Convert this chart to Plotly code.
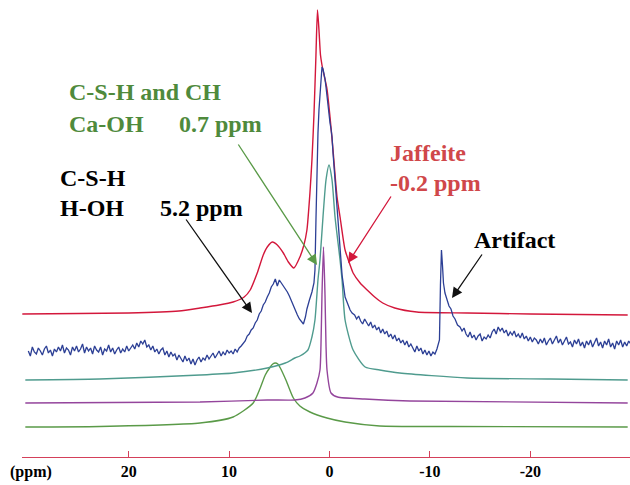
import numpy as np
import plotly.graph_objects as go

# ---------------- data (chemical shift in ppm, intensity in arbitrary units) -------------
red_ppm = [30.6, 25, 20, 15, 12.9, 11, 9.6, 8.5, 7.9, 7.2, 6.6, 6.2, 5.7, 5.2, 4.6, 4.1, 3.55,
           2.95, 2.55, 2.25, 1.95, 1.75, 1.55, 1.35, 1.2, 1.05, 0.9, 0.75, 0.5, 0.25, -0.05, -0.35,
           -0.75, -1.05, -1.55, -2.05, -2.35, -3.05, -3.75, -4.5, -5.3, -6.5, -8.7, -13.7, -20, -29.7]
red_val = [141, 141.5, 142, 144, 147, 150, 153, 158, 165, 182, 200, 208, 213, 210, 202, 193, 187,
           198, 210, 225, 262, 295, 340, 400, 445, 425, 400, 390, 378, 366, 338, 305,
           258, 238, 205, 190, 182, 172, 165, 158, 152, 147, 143, 142, 141, 140]

teal_ppm = [30.3, 22.9, 12.9, 9.6, 6.2, 4.4, 3.45, 2.95, 2.15, 1.75, 1.45, 1.15, 0.95, 0.65, 0.35,
            0.05, -0.25, -0.55, -1.05, -1.25, -1.55, -2.35, -3.55, -5.0, -7.0, -13.7, -22, -29.7]
teal_val = [75, 76, 80, 82, 87, 92, 97, 99, 105, 118, 135, 175, 195, 238, 275,
            290, 275, 238, 195, 175, 135, 105, 88, 85, 82, 77, 76, 75]

purple_ppm = [30.3, 12.9, 6.2, 3.45, 2.45, 1.65, 1.25, 0.95, 0.85, 0.75, 0.6, 0.45, 0.35, 0.25,
              -0.15, -0.8, -3.5, -8, -29.7]
purple_val = [52, 53, 55, 55, 57, 62, 72, 85, 110, 160, 208, 160, 110, 85,
              62, 58, 56, 54, 52]

green_ppm = [30.3, 22.9, 12.9, 9.6, 7.6, 6.9, 6.4, 5.9, 5.65, 5.4, 5.15, 4.9, 4.3, 3.6, 2.95, 1.95,
             0.25, -1.55, -5.0, -12, -29.7]
green_val = [28, 28.5, 32, 38, 52, 67, 80, 88, 91, 92, 91, 87, 74, 57, 49, 43,
             37, 33, 29, 28.5, 28]

# experimental spectrum (blue), read in pieces
blue_a = [104, 99, 108, 103, 101, 107, 104, 100, 106, 109, 102, 105, 99, 106, 103, 108, 104, 110,
          102, 107, 105, 100, 108, 104, 109, 103, 106, 111, 102, 108, 104, 107, 101, 109, 105, 103,
          108, 100, 106, 104, 110, 103, 107, 101, 105, 108, 102, 106, 103, 109, 104, 107, 110, 106,
          112, 108, 114, 111, 115, 108, 110, 105, 109, 103, 106, 101, 105, 107, 100, 104, 98, 103,
          99, 101, 95, 100, 97, 93, 99, 94, 97, 91, 96, 90, 95, 98, 93, 97, 95, 100, 96, 99, 102,
          97, 101, 104, 99, 103, 100, 105, 102, 104, 101, 106, 103, 107, 109, 112, 114, 119, 121,
          125, 127, 132, 135, 141, 144, 150, 153, 158, 162, 168, 171, 176, 169, 175, 172, 170, 167,
          163, 159, 154, 149, 145, 140, 136, 133, 131]
blue_a_ppm = np.linspace(30.0, 2.6, len(blue_a))

blue_b_ppm = [2.4, 2.25, 2.0, 1.75, 1.55, 1.45, 1.35, 1.25, 1.15, 1.05, 0.9, 0.75, 0.65, 0.55, 0.45,
              0.35, 0.25, 0.15, 0.05, -0.05, -0.15, -0.25, -0.35, -0.45, -0.65, -0.95, -1.25, -1.55,
              -1.8, -2.05, -2.25]
blue_b = [138, 146, 155, 163, 172, 185, 235, 295, 322, 345, 370, 388, 386, 382, 376,
          368, 358, 348, 338, 332, 326, 318, 302, 288, 255, 215, 180, 158, 151, 145, 142]

blue_c = [140, 136, 139, 134, 131, 136, 132, 129, 133, 127, 130, 125, 128, 122, 126, 121, 124,
          118, 121, 116, 120, 114, 117, 112, 115, 110, 114, 108, 111, 107, 103, 109, 104, 107,
          101, 105, 100, 104, 99, 103, 101, 106]
blue_c_ppm = np.linspace(-2.5, -10.7, len(blue_c))

blue_art_ppm = [-10.95, -11.05, -11.15, -11.25, -11.35, -11.5, -11.7, -11.9, -12.1, -12.3, -12.5, -12.75]
blue_art = [115, 170, 205, 190, 172, 162, 156, 149, 146, 139, 136, 130]

blue_d = [128, 124, 127, 121, 118, 123, 117, 120, 115, 119, 121, 114, 118, 116, 120, 117, 123,
          126, 121, 128, 124, 127, 122, 125, 119, 123, 120, 124, 118, 121, 117, 122, 116, 119,
          114, 118, 113, 117, 115, 111, 116, 112, 117, 110, 114, 117, 111, 115, 119, 112, 116,
          110, 114, 118, 111, 113, 108, 115, 111, 116, 109, 113, 107, 114, 110, 115, 108, 112,
          117, 109, 113, 107, 114, 110, 116, 108, 112, 106, 114, 110, 115, 108, 113, 109, 114, 111]
blue_d_ppm = np.linspace(-13.0, -30.0, len(blue_d))

blue_ppm = list(blue_a_ppm) + blue_b_ppm + list(blue_c_ppm) + blue_art_ppm + list(blue_d_ppm)
blue_val = blue_a + blue_b + blue_c + blue_art + blue_d

tick_vals = [20, 10, 0, -10, -20]
tick_text = ["20", "10", "0", "-10", "-20"]

# ---------------- figure ----------------
RED = "#d3173b"
BLUE = "#2c3f95"
TEAL = "#4f9b8e"
PURPLE = "#94459c"
GREEN = "#5a9a48"
GREEN_TXT = "#4f8a3c"
RED_TXT = "#d0474a"
SERIF = "Liberation Serif, Times New Roman, serif"

fig = go.Figure()
for xs, ys, col, w in [(green_ppm, green_val, GREEN, 1.4), (purple_ppm, purple_val, PURPLE, 1.4),
                       (teal_ppm, teal_val, TEAL, 1.4), (red_ppm, red_val, RED, 1.4)]:
    fig.add_trace(go.Scatter(x=xs, y=ys, mode="lines", line=dict(color=col, width=w, shape="spline", smoothing=0.6),
                             hoverinfo="skip", showlegend=False))
fig.add_trace(go.Scatter(x=blue_ppm, y=blue_val, mode="lines", line=dict(color=BLUE, width=1.3),
                         hoverinfo="skip", showlegend=False))

def txt(x, y, s, col):
    fig.add_annotation(x=x, y=y, xref="x", yref="y", text=s, showarrow=False, xanchor="left",
                       yanchor="middle", font=dict(family=SERIF, size=24, color=col))

txt(26.14, 363, "<b>C-S-H and CH</b>", GREEN_TXT)
txt(26.14, 331, "<b>Ca-OH</b>", GREEN_TXT)
txt(15.18, 331, "<b>0.7 ppm</b>", GREEN_TXT)
txt(27.04, 277, "<b>C-S-H</b>", "black")
txt(27.04, 247, "<b>H-OH</b>", "black")
txt(17.08, 247, "<b>5.2 ppm</b>", "black")
txt(-5.83, 302, "<b>Jaffeite</b>", RED_TXT)
txt(-5.83, 272, "<b>-0.2 ppm</b>", RED_TXT)
txt(-14.19, 215, "<b>Artifact</b>", "black")

def arrow(x0, y0, x1, y1, col):
    fig.add_annotation(x=x1, y=y1, ax=x0, ay=y0, xref="x", yref="y", axref="x", ayref="y",
                       text="", showarrow=True, arrowhead=2, arrowsize=1.6, arrowwidth=1.3,
                       arrowcolor=col)

arrow(9.18, 312, 1.24, 190, GREEN)
arrow(14.39, 237, 7.72, 142, "#111111")
arrow(-6.22, 260, -1.84, 192, RED)
arrow(-15.29, 202, -12.2, 157, "#111111")

fig.add_annotation(x=0.0, y=0, xref="paper", yref="paper", yshift=-15, xshift=-14,
                   text="<b>(ppm)</b>", showarrow=False, xanchor="left", yanchor="middle",
                   font=dict(family=SERIF, size=16, color="black"))

fig.update_xaxes(range=[30.63, -29.93], showgrid=False, zeroline=False, showline=True,
                 linecolor="#d4405a", linewidth=1.2, ticks="inside", ticklen=6, tickcolor="#d4405a",
                 tickwidth=1.2, tickvals=tick_vals, ticktext=["<b>%s</b>" % t for t in tick_text],
                 tickfont=dict(family=SERIF, size=16, color="black"))
fig.update_yaxes(range=[-2, 455], visible=False, showgrid=False, zeroline=False)
fig.update_layout(width=630, height=485, margin=dict(l=22, r=0, t=0, b=28),
                  plot_bgcolor="white", paper_bgcolor="white", showlegend=False)
fig.write_html("out.html", config={"displayModeBar": False},
               post_script="document.body.style.margin='0';")
